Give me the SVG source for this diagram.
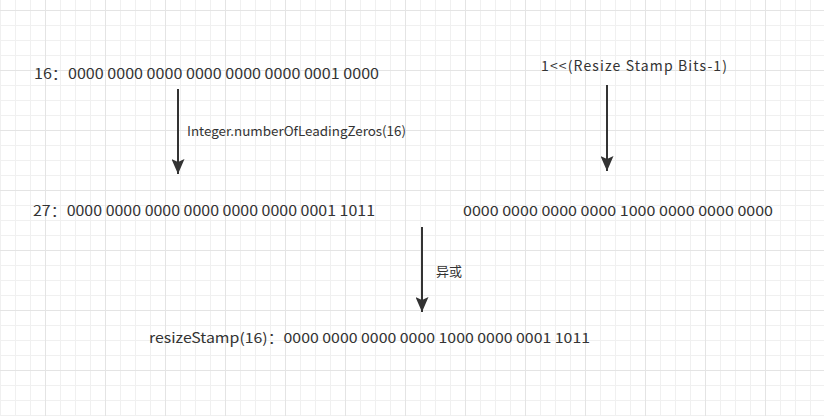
<svg xmlns="http://www.w3.org/2000/svg" width="824" height="416" viewBox="0 0 824 416">
  <defs>
    <pattern id="minor" width="15" height="15" patternUnits="userSpaceOnUse" x="0" y="10">
      <path d="M0 0.5H15M0.5 0V15" fill="none" stroke="#f0f0f0" stroke-width="1"/>
    </pattern>
    <pattern id="major" width="60" height="60" patternUnits="userSpaceOnUse" x="45" y="10">
      <path d="M0 0.5H60M0.5 0V60" fill="none" stroke="#e4e4e4" stroke-width="1"/>
    </pattern>
    <marker id="arrow" markerWidth="15" markerHeight="13" refX="15" refY="6.5" orient="auto" markerUnits="userSpaceOnUse" viewBox="0 0 15 13">
      <path d="M0 0L15 6.5L0 13L3 6.5Z" fill="#333"/>
    </marker>
  </defs>
  <style>
    text { font-family: "Microsoft YaHei", "Noto Sans CJK SC", "Liberation Sans", sans-serif; font-size: 14px; fill: #333; }
    .lbl { font-size: 13px; }
    .conn { stroke: #333; stroke-width: 2; fill: none; }
  </style>
  <rect width="824" height="416" fill="#ffffff"/>
  <rect width="824" height="416" fill="url(#minor)"/>
  <rect width="824" height="416" fill="url(#major)"/>

  <g id="n16">
    <text x="34" y="79" textLength="345" lengthAdjust="spacingAndGlyphs">16：0000 0000 0000 0000 0000 0000 0001 0000</text>
  </g>
  <g id="nShift">
    <text x="541" y="71" textLength="186" lengthAdjust="spacing">1&lt;&lt;(Resize Stamp Bits-1)</text>
  </g>
  <g id="n27">
    <text x="33" y="216" textLength="342" lengthAdjust="spacingAndGlyphs">27：0000 0000 0000 0000 0000 0000 0001 1011</text>
  </g>
  <g id="nBits">
    <text x="463" y="216" textLength="310" lengthAdjust="spacingAndGlyphs">0000 0000 0000 0000 1000 0000 0000 0000</text>
  </g>
  <g id="nResult">
    <text x="149" y="343" textLength="441" lengthAdjust="spacingAndGlyphs">resizeStamp(16)：0000 0000 0000 0000 1000 0000 0001 1011</text>
  </g>

  <g id="connectors">
    <line class="conn" x1="178" y1="89" x2="178" y2="174" marker-end="url(#arrow)"/>
    <text class="lbl" x="187" y="136" textLength="219" lengthAdjust="spacingAndGlyphs">Integer.numberOfLeadingZeros(16)</text>
    <line class="conn" x1="607" y1="85" x2="607" y2="171" marker-end="url(#arrow)"/>
    <line class="conn" x1="422" y1="227" x2="422" y2="312" marker-end="url(#arrow)"/>
    <text class="lbl" x="436" y="276">异或</text>
  </g>
</svg>
